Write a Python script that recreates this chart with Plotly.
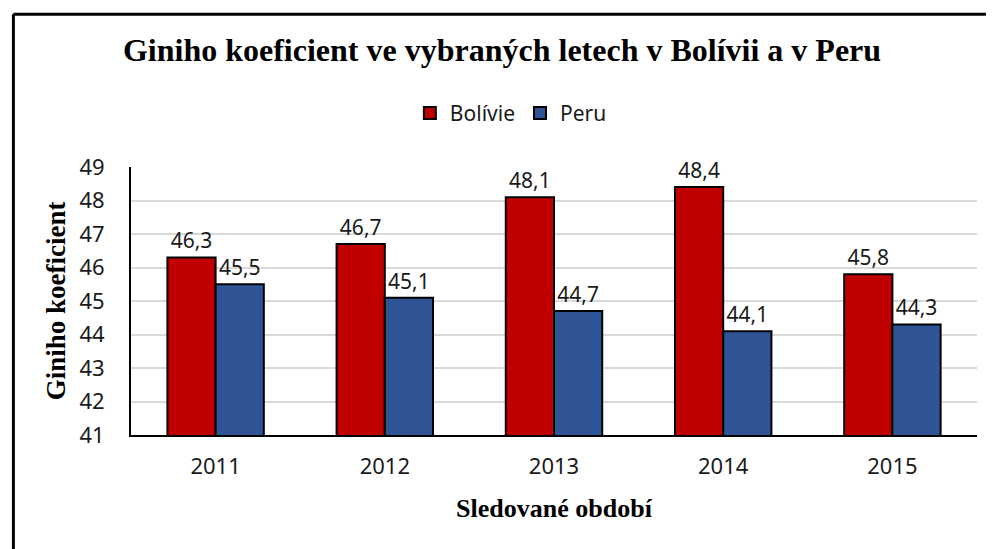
import plotly.graph_objects as go

years = ["2011", "2012", "2013", "2014", "2015"]
bolivie = [46.3, 46.7, 48.1, 48.4, 45.8]
peru = [45.5, 45.1, 44.7, 44.1, 44.3]

tick_font = dict(family="Noto Sans, Open Sans, sans-serif", size=22, color="#1a1a1a")
label_font = dict(family="Noto Sans, Open Sans, sans-serif", size=21, color="#1a1a1a")
serif_bold = "Liberation Serif, Times New Roman, serif"

fig = go.Figure()
fig.add_trace(go.Bar(
  x=years, y=bolivie, name="Bolívie",
  marker=dict(color="#c00000", line=dict(color="black", width=2)),
  texttemplate="%{y:.1f}", textposition="outside", textfont=label_font,
  cliponaxis=False
))
fig.add_trace(go.Bar(
  x=years, y=peru, name="Peru",
  marker=dict(color="#2f5597", line=dict(color="black", width=2)),
  texttemplate="%{y:.1f}", textposition="outside", textfont=label_font,
  cliponaxis=False
))

fig.update_layout(
  width=994, height=549,
  margin=dict(l=123, r=25, t=159, b=122),
  paper_bgcolor="white", plot_bgcolor="white",
  separators=", ",
  barmode="group", bargap=0.43, bargroupgap=0,
  title=dict(
    text="<b>Giniho koeficient ve vybraných letech v Bolívii a v Peru</b>",
    font=dict(family=serif_bold, size=32, color="black"),
    x=0.497, xanchor="center", y=0.923, yanchor="middle"
  ),
  legend=dict(
    orientation="h", x=0.449, xanchor="center", y=1.2, yanchor="middle",
    font=dict(family=tick_font["family"], size=21, color="#1a1a1a"), traceorder="normal"
  ),
  showlegend=True,
)

fig.update_yaxes(
  range=[41, 49], dtick=1, tickfont=tick_font,
  showgrid=True, gridcolor="#d9d9d9", gridwidth=2,
  showline=True, linecolor="black", linewidth=2,
  ticks="", ticklabelstandoff=20,
  title=dict(text="<b>Giniho koeficient</b>", font=dict(family=serif_bold, size=27, color="black"), standoff=6),
)
fig.update_xaxes(
  tickfont=tick_font,
  showline=True, linecolor="black", linewidth=2,
  ticks="", ticklabelstandoff=11,
  title=dict(text="<b>Sledované období</b>", font=dict(family=serif_bold, size=26, color="black"), standoff=19),
)

# chart border (left and top edges visible)
fig.add_shape(type="line", xref="paper", yref="paper", x0=-0.139, x1=-0.139, y0=1.570, y1=-0.5,
              line=dict(color="black", width=3))
fig.add_shape(type="line", xref="paper", yref="paper", x0=-0.139, x1=1.05, y0=1.570, y1=1.570,
              line=dict(color="black", width=3))

fig.write_html("out.html")
